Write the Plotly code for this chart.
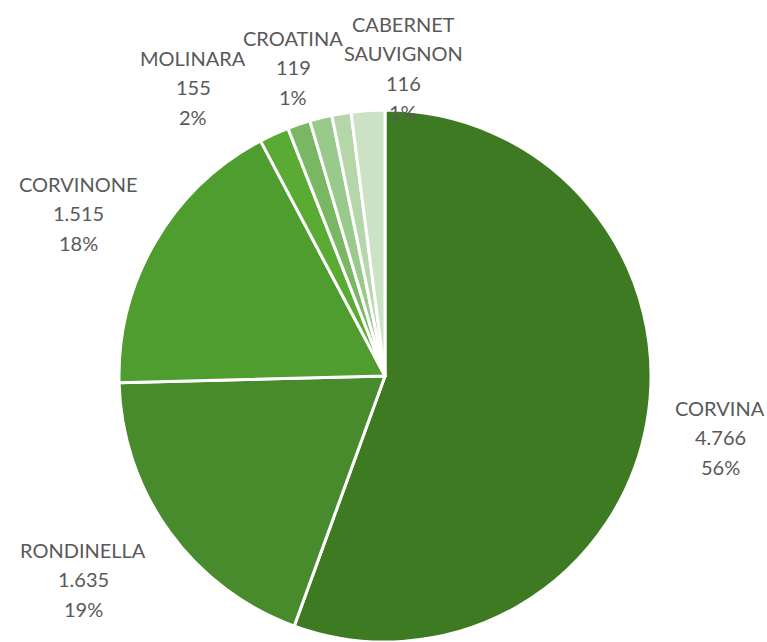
import plotly.graph_objects as go

varieties = ["CORVINA", "RONDINELLA", "CORVINONE", "MOLINARA", "CROATINA",
             "CABERNET SAUVIGNON", "OSELETA", "ALTRI"]
quantities = [4766, 1635, 1515, 155, 119, 116, 100, 175]
show_label = [True, True, True, True, True, True, False, False]

colors = ["#3d7a22", "#478b2c", "#4f9c2f", "#5aab34", "#79b763",
          "#9ac98c", "#b4d6a8", "#cce2c4"]

# label centres in figure pixels (x, y) and line breaks for long names
label_pos = [(720, 437), (83, 579), (78, 213), (193, 87), (293, 67), (403, 68)]
name_lines = {"CABERNET SAUVIGNON": ["CABERNET", "SAUVIGNON"]}

W, H = 767, 642
LINE = 29.5

total = sum(quantities)

fig = go.Figure()
fig.add_trace(
    go.Pie(
        labels=varieties,
        values=quantities,
        sort=False,
        direction="clockwise",
        rotation=0,
        marker=dict(colors=colors, line=dict(color="white", width=3)),
        textinfo="none",
        showlegend=False,
        hoverinfo="label+value+percent",
        domain=dict(x=[119 / W, 651 / W], y=[0, 1 - 110 / H]),
    )
)

annotations = []
k = 0
for name, val, show in zip(varieties, quantities, show_label):
    if not show:
        continue
    lines = name_lines.get(name, [name])
    lines = lines + [f"{val:,}".replace(",", "."), f"{round(val / total * 100)}%"]
    cx, cy = label_pos[k]
    k += 1
    n = len(lines)
    for i, txt in enumerate(lines):
        y = cy + (i - (n - 1) / 2) * LINE
        annotations.append(dict(
            x=cx / W, y=1 - y / H, xref="paper", yref="paper",
            text=txt, showarrow=False, xanchor="center", yanchor="middle",
            font=dict(family="Lato", size=20, color="#595959"),
        ))

fig.update_layout(
    width=W,
    height=H,
    margin=dict(l=0, r=0, t=0, b=0),
    paper_bgcolor="white",
    plot_bgcolor="white",
    annotations=annotations,
)

# drop the default page margin so the figure fills the window exactly
fig.write_html(
    "out.html",
    config={"displayModeBar": False},
    post_script="document.body.style.margin='0';",
)
